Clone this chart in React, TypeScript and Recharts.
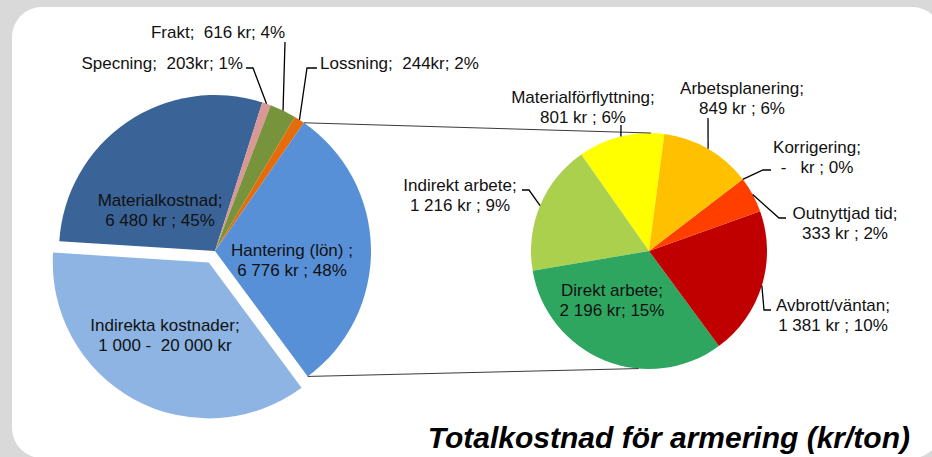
import { PieChart, Pie, Cell } from 'recharts';

// huvudcirkel (kr/ton)
const mainNames = ['Materialkostnad', 'Specning', 'Frakt', 'Lossning', 'Hantering (lön)', 'Indirekta kostnader'];
const mainValues = [6480, 203, 616, 244, 6776, 8100];
const mainLabels = [
  ['Materialkostnad;', '6 480 kr ; 45%'],
  ['Specning;  203kr; 1%'],
  ['Frakt;  616 kr; 4%'],
  ['Lossning;  244kr; 2%'],
  ['Hantering (lön) ;', '6 776 kr ; 48%'],
  ['Indirekta kostnader;', '1 000 -  20 000 kr'],
];
const mainColors = ['#3a6398', '#d99795', '#77933c', '#e46c0a', '#5890d8', '#8db4e2'];

// uppdelning av hantering (lön)
const subNames = ['Materialförflyttning', 'Indirekt arbete', 'Direkt arbete', 'Avbrott/väntan', 'Outnyttjad tid', 'Korrigering', 'Arbetsplanering'];
const subValues = [801, 1216, 2196, 1381, 333, 0, 849];
const subLabels = [
  ['Materialförflyttning;', '801 kr ; 6%'],
  ['Indirekt arbete;', '1 216 kr ; 9%'],
  ['Direkt arbete;', '2 196 kr; 15%'],
  ['Avbrott/väntan;', '1 381 kr ; 10%'],
  ['Outnyttjad tid;', '333 kr ; 2%'],
  ['Korrigering;', '-   kr ; 0%'],
  ['Arbetsplanering;', '849 kr ; 6%'],
];
const subColors = ['#ffff00', '#abd04e', '#2ea65f', '#c00000', '#ff3f00', '#ff8000', '#ffc000'];

const TITLE = 'Totalkostnad för armering (kr/ton)';

const W = 932;
const H = 457;
const MAIN_CX = 215;
const MAIN_CY = 251;
const MAIN_R = 156;
const MAIN_START = 176.4;
const EXPLODE = 13;
const SUB_CX = 649;
const SUB_CY = 251;
const SUB_R = 118;
const SUB_START = 82.5;

type Pos = { x: number; y: number; anchor?: 'start' | 'middle' | 'end'; bend?: number[]; end?: number[] };

const labelPos: Record<string, Pos> = {
  'Materialkostnad': { x: 160, y: 200 },
  'Specning': { x: 243, y: 63, anchor: 'end', bend: [253, 68], end: [246, 68] },
  'Frakt': { x: 218, y: 32, bend: [285, 42] },
  'Lossning': { x: 320, y: 63, anchor: 'start', bend: [307, 68], end: [317, 68] },
  'Hantering (lön)': { x: 292, y: 250 },
  'Indirekta kostnader': { x: 165, y: 325 },
  'Materialförflyttning': { x: 583, y: 97, bend: [621, 125] },
  'Indirekt arbete': { x: 460, y: 185, bend: [529, 190], end: [522, 190] },
  'Direkt arbete': { x: 612, y: 290 },
  'Avbrott/väntan': { x: 833, y: 305, bend: [764, 310], end: [771, 310] },
  'Outnyttjad tid': { x: 845, y: 213, bend: [779, 218], end: [786, 218] },
  'Korrigering': { x: 817, y: 147, bend: [763, 170], end: [771, 170] },
  'Arbetsplanering': { x: 742, y: 88, bend: [708, 118] },
};

const RAD = Math.PI / 180;
const arcPoint = (cx: number, cy: number, r: number, angle: number) => [
  cx + r * Math.cos(-angle * RAD),
  cy + r * Math.sin(-angle * RAD),
];
const sum = (a: number[]) => a.reduce((s, v) => s + v, 0);

const mainData = mainNames.map((name, i) => ({ name, value: mainValues[i] }));
const subData = subNames.map((name, i) => ({ name, value: subValues[i] }));

// utbruten sektor (indirekta kostnader)
const EXP = mainNames.length - 1;
const mainTotal = sum(mainValues);
const expStart = MAIN_START - (360 * sum(mainValues.slice(0, EXP))) / mainTotal;
const expMid = expStart - (180 * mainValues[EXP]) / mainTotal;
const [EXP_CX, EXP_CY] = arcPoint(MAIN_CX, MAIN_CY, EXPLODE, expMid);

const font = '"Liberation Sans", Arial, sans-serif';

const renderLabel = (names: string[], lines: string[][], show: (n: string) => boolean) => (props: any) => {
  const name = props.name ?? props.payload?.name;
  if (!show(name)) return null;
  const i = names.indexOf(name);
  const pos = labelPos[name];
  if (!pos || i < 0) return null;
  const { cx, cy, outerRadius, midAngle } = props;
  const [ax, ay] = arcPoint(cx, cy, outerRadius, midAngle);
  let leader = null;
  if (pos.bend) {
    const pts = [[ax, ay], pos.bend];
    if (pos.end) pts.push(pos.end);
    leader = <polyline points={pts.map((p) => p.join(',')).join(' ')} fill="none" stroke="#000" strokeWidth={1.3} />;
  }
  let connectors = null;
  if (name === 'Hantering (lön)') {
    const p1 = arcPoint(cx, cy, outerRadius, props.startAngle);
    const p2 = arcPoint(cx, cy, outerRadius, props.endAngle);
    const q1 = arcPoint(SUB_CX, SUB_CY, SUB_R, 89);
    const q2 = arcPoint(SUB_CX, SUB_CY, SUB_R, 265);
    connectors = (
      <g stroke="#3a3a3a" strokeWidth={1}>
        <line x1={p1[0]} y1={p1[1]} x2={q1[0]} y2={q1[1]} />
        <line x1={p2[0]} y1={p2[1]} x2={q2[0]} y2={q2[1]} />
      </g>
    );
  }
  return (
    <g>
      {connectors}
      {leader}
      <text
        x={pos.x}
        y={pos.y}
        textAnchor={pos.anchor ?? 'middle'}
        dominantBaseline="central"
        fill="#111"
        fontSize={17}
        fontFamily={font}
        style={{ whiteSpace: 'pre' }}
      >
        {lines[i].map((t, k) => (
          <tspan key={k} x={pos.x} dy={k ? 20 : 0}>
            {t}
          </tspan>
        ))}
      </text>
    </g>
  );
};

export default function App() {
  return (
    <div style={{ position: 'relative', width: W, height: H, background: '#d9d9d9', overflow: 'hidden' }}>
      <style>{'body{margin:0}'}</style>
      <div
        style={{
          position: 'absolute',
          left: 12,
          top: 7,
          width: 930,
          height: 451,
          background: '#fff',
          borderRadius: 30,
        }}
      />
      <div style={{ position: 'absolute', left: 0, top: 0 }}>
        <PieChart width={W} height={H} margin={{ top: 0, right: 0, bottom: 0, left: 0 }}>
          <Pie
            data={mainData}
            dataKey="value"
            nameKey="name"
            cx={MAIN_CX}
            cy={MAIN_CY}
            outerRadius={MAIN_R}
            startAngle={MAIN_START}
            endAngle={MAIN_START - 360}
            stroke="none"
            labelLine={false}
            label={renderLabel(mainNames, mainLabels, (n) => n !== mainNames[EXP])}
            isAnimationActive={false}
          >
            {mainData.map((d, i) => (
              <Cell key={d.name} fill={i === EXP ? 'transparent' : mainColors[i]} stroke="none" />
            ))}
          </Pie>
          <Pie
            data={mainData}
            dataKey="value"
            nameKey="name"
            cx={EXP_CX}
            cy={EXP_CY}
            outerRadius={MAIN_R}
            startAngle={MAIN_START}
            endAngle={MAIN_START - 360}
            stroke="none"
            labelLine={false}
            label={renderLabel(mainNames, mainLabels, (n) => n === mainNames[EXP])}
            isAnimationActive={false}
          >
            {mainData.map((d, i) => (
              <Cell key={d.name} fill={i === EXP ? mainColors[i] : 'transparent'} stroke="none" />
            ))}
          </Pie>
          <Pie
            data={subData}
            dataKey="value"
            nameKey="name"
            cx={SUB_CX}
            cy={SUB_CY}
            outerRadius={SUB_R}
            startAngle={SUB_START}
            endAngle={SUB_START + 360}
            stroke="none"
            labelLine={false}
            label={renderLabel(subNames, subLabels, () => true)}
            isAnimationActive={false}
          >
            {subData.map((d, i) => (
              <Cell key={d.name} fill={subColors[i]} stroke="none" />
            ))}
          </Pie>
        </PieChart>
      </div>
      <div
        style={{
          position: 'absolute',
          right: 22,
          top: 423,
          lineHeight: '30px',
          fontSize: 30,
          fontWeight: 'bold',
          fontStyle: 'italic',
          fontFamily: font,
          color: '#000',
          whiteSpace: 'pre',
        }}
      >
        {TITLE}
      </div>
    </div>
  );
}
